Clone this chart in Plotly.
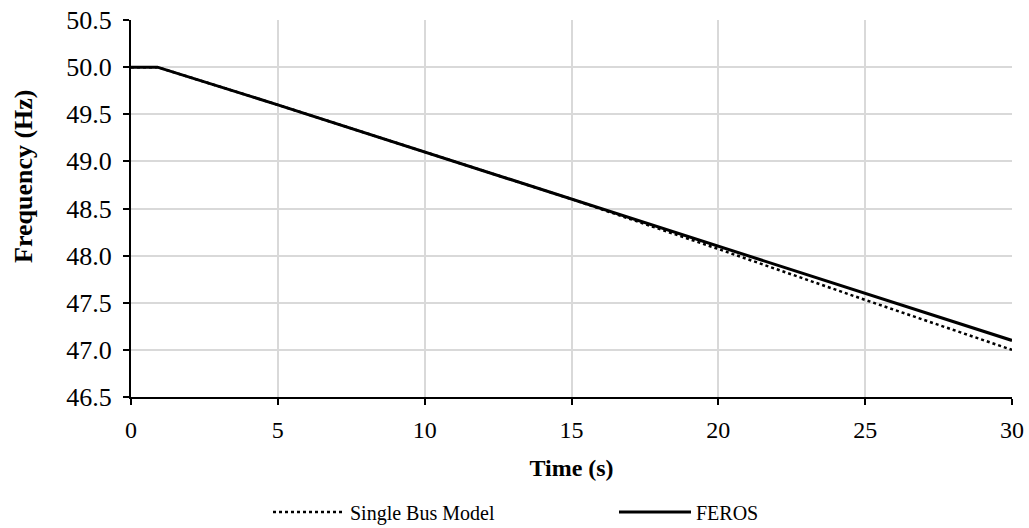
import plotly.graph_objects as go

time_s = [0, 0.9, 5, 10, 15, 20, 25, 30]
single_bus = [50.0, 50.0, 49.6, 49.1, 48.6, 48.07, 47.53, 47.0]
feros = [50.0, 50.0, 49.6, 49.1, 48.6, 48.1, 47.6, 47.1]

font_family = "Liberation Serif, Times New Roman, serif"

fig = go.Figure()
fig.add_trace(go.Scatter(x=time_s, y=single_bus, mode="lines", name="Single Bus Model",
                         line=dict(color="black", width=2.5, dash="dot")))
fig.add_trace(go.Scatter(x=time_s, y=feros, mode="lines", name="FEROS",
                         line=dict(color="black", width=3)))

fig.update_layout(
    width=1029, height=528,
    margin=dict(l=131, r=17, t=20, b=131, autoexpand=False),
    paper_bgcolor="white", plot_bgcolor="white",
    font=dict(family=font_family, size=24, color="black"),
    showlegend=True,
    legend=dict(orientation="h", x=(268 - 131) / 881, xanchor="left",
                y=(397 - 512) / 377, yanchor="middle",
                font=dict(size=20), entrywidth=259, itemwidth=72),
    annotations=[dict(text="<b>Frequency (Hz)</b>", textangle=-90,
                      xref="paper", yref="paper",
                      x=(23 - 131) / 881, y=(397 - 176) / 377,
                      xanchor="center", yanchor="middle", showarrow=False,
                      font=dict(size=26))],
)
fig.update_xaxes(range=[0, 30], tickvals=[0, 5, 10, 15, 20, 25, 30],
                 showline=True, linecolor="black", linewidth=2,
                 ticks="outside", ticklen=6, tickwidth=1.5, tickcolor="black",
                 ticklabelstandoff=4,
                 showgrid=True, gridcolor="#d9d9d9", gridwidth=1.5, zeroline=False,
                 automargin=False,
                 title=dict(text="<b>Time (s)</b>", standoff=17, font=dict(size=24)))
fig.update_yaxes(range=[46.5, 50.5], tickvals=[46.5, 47, 47.5, 48, 48.5, 49, 49.5, 50, 50.5],
                 tickformat=".1f", tickfont=dict(size=26),
                 showline=True, linecolor="black", linewidth=2,
                 ticks="outside", ticklen=6, tickwidth=1.5, tickcolor="black",
                 ticklabelstandoff=6,
                 showgrid=True, gridcolor="#d9d9d9", gridwidth=1.5, zeroline=False,
                 automargin=False)

fig.write_html("out.html")
